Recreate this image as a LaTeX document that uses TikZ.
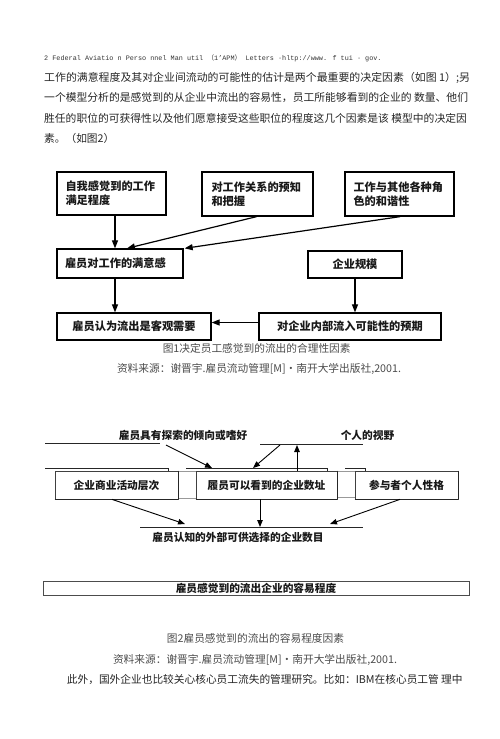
\documentclass[tikz,border=0pt]{standalone}
\usepackage{graphicx}
\usepackage{fontspec}
\setmainfont{Noto Sans CJK SC}
\newfontfamily\hdrfont{Liberation Mono}
\usetikzlibrary{arrows.meta}
\begin{document}
\begin{tikzpicture}[x=1pt,y=-1pt,
  boxa/.style={draw=black, line width=1.3pt, inner sep=0pt, text=black!90,
    font=\fontsize{11.2}{14.3}\selectfont\bfseries},
  boxb/.style={draw=black!75, line width=0.7pt, inner sep=0pt, fill=white, text=black!90,
    font=\fontsize{10.7}{12}\selectfont\bfseries},
  arra/.style={line width=1.2pt, -{Triangle[length=8pt,width=6pt]}},
  arrb/.style={line width=0.9pt, -{Triangle[length=7pt,width=5.5pt]}},
  body/.style={anchor=west, inner sep=0pt, text=black!85, font=\fontsize{10.7}{12}\selectfont},
  capt/.style={inner sep=0pt, text=black!70, font=\fontsize{10.7}{12}\selectfont},
  lbl/.style={inner sep=0pt, text=black!90, font=\fontsize{10.7}{12}\selectfont\bfseries},
  hline/.style={line width=1pt, draw=black!85},
  faint/.style={line width=0.5pt, draw=black!40}
]
\useasboundingbox[fill=white] (0,0) rectangle (500,739);

% header and body text
\node[anchor=west, inner sep=0pt, text=black!80, font=\fontsize{6.8}{8}\selectfont] (hdr) at (44,58)
  {\hdrfont 2 Federal Aviatio n Perso nnel Man util \rmfamily（\hdrfont 1’APM\rmfamily）\hdrfont{} Letters ·hltp://www. f tui · gov.};
\node[body] (p1) at (44,78) {\scalebox{1.019}[1]{工作的满意程度及其对企业间流动的可能性的估计是两个最重要的决定因素（如图 1）;另}};
\node[body] (p2) at (44,98) {\scalebox{1.01}[1]{一个模型分析的是感觉到的从企业中流出的容易性，员工所能够看到的企业的 数量、他们}};
\node[body] (p3) at (44,118) {\scalebox{1.007}[1]{胜任的职位的可获得性以及他们愿意接受这些职位的程度这几个因素是该 模型中的决定因}};
\node[body] (p4) at (44,138) {素。（如图2）};

% diagram 1
\node[boxa, minimum width=109pt, minimum height=43pt, text width=92pt, align=left] (A) at (111.5,193.5)
  {自我感觉到的工作\\满足程度};
\node[boxa, minimum width=111pt, minimum height=44pt, text width=92pt, align=left] (B) at (257.5,194)
  {对工作关系的预知\\和把握};
\node[boxa, minimum width=109pt, minimum height=44pt, text width=92pt, align=left] (C) at (399.5,194)
  {工作与其他各种角\\色的和谐性};
\node[boxa, minimum width=126pt, minimum height=29pt, text width=110pt, align=left] (D) at (120,263.5)
  {雇员对工作的满意感};
\node[boxa, minimum width=94pt, minimum height=27pt] (E) at (355,264.5) {企业规模};
\node[boxa, minimum width=154pt, minimum height=27pt] (F) at (134,326.5) {雇员认为流出是客观需要};
\node[boxa, minimum width=182pt, minimum height=27pt] (G) at (350,326.5) {对企业内部流入可能性的预期};

\draw[arra] ([xshift=3.5pt]A.south) -- ([xshift=3.5pt]A.south |- D.north);
\draw[arra] ([xshift=-1pt]B.south) -- ([xshift=7pt]D.north);
\draw[arra] ([xshift=0.5pt]C.south) -- ([xshift=1pt]D.north east);
\draw[arra] ([xshift=-5pt]D.south) -- ([xshift=-5pt]D.south |- F.north);
\draw[arra] (E.south) -- (E.south |- G.north);
\draw[arra] ([yshift=4pt]G.west) -- ([yshift=4pt]F.east);

\node[capt] (cap1) at (256.7,348) {图1决定员工感觉到的流出的合理性因素};
\node[capt] (src1) at (259,369) {资料来源：谢晋宇.雇员流动管理[M]·南开大学出版社,2001.};

% diagram 2
\node[lbl] (t1) at (183,435) {雇员具有探索的倾向或嗜好};
\coordinate (l1a) at (45,443);
\coordinate (l1b) at (160,443);
\draw[hline] (l1a) -- (l1b);
\node[lbl] (t2) at (367.5,435) {个人的视野};
\coordinate (l2a) at (260,444);
\coordinate (l2b) at (363,444);
\draw[hline] (l2a) -- (l2b);

% faint connectors between the boxes
\draw[faint] (178,471) -- (196,471);
\draw[faint] (178,498) -- (196,498);
\draw[faint] (337,471) -- (355,471);
\draw[faint] (337,497) -- (355,497);

\draw[line width=0.9pt, draw=black!85] (45,468) -- (168,468) -- (168,471);
\draw[line width=0.9pt, draw=black!85] (186,468) -- (327,468) -- (327,471);
\draw[line width=0.9pt, draw=black!85] (345,468) -- (365,468) -- (365,471);

\node[boxb, minimum width=123pt, minimum height=28pt] (b1) at (116.5,485) {企业商业活动层次};
\node[boxb, minimum width=141pt, minimum height=28pt] (b2) at (266.5,485) {履员可以看到的企业数址};
\node[boxb, minimum width=103pt, minimum height=28pt] (b3) at (406.5,485) {参与者个人性格};
\foreach \b in {b1,b2,b3} {
  \draw[line width=1.6pt, draw=black!85] (\b.south west) -- (\b.south east);
  \draw[line width=0.9pt, draw=black!85] (\b.north east) -- (\b.south east);
}

\coordinate (a1s) at (166,445);
\coordinate (a1e) at (212,468);
\draw[arrb] (a1s) -- (a1e);
\coordinate (a2s) at (280,445);
\coordinate (a2e) at (253,468);
\draw[arrb] (a2s) -- (a2e);
\draw[arrb] (b2.north -| 297,0) -- (297,445);

\coordinate (l3a) at (140,527);
\coordinate (l3b) at (363,527);
\draw[hline] (l3a) -- (l3b);
\node[lbl] (t3) at (238,537.5) {雇员认知的外部可供选择的企业数目};
\draw[arrb] ([xshift=-4.5pt]b1.south) -- (185,524);
\draw[arrb] ([xshift=-6.5pt]b2.south) -- ([xshift=-6.5pt]b2.south |- l3a);
\draw[arrb] ([xshift=-6.5pt]b3.south) -- (330,524);

\node[draw=black!70, line width=0.9pt, minimum width=426pt, minimum height=14pt, inner sep=0pt,
  text=black!90, font=\fontsize{10.7}{12}\selectfont\bfseries] (W) at (256,588) {雇员感觉到的流出企业的容易程度};

\node[capt] (cap2) at (255.5,638) {图2雇员感觉到的流出的容易程度因素};
\node[capt] (src2) at (255,660) {资料来源：谢晋宇.雇员流动管理[M]·南开大学出版社,2001.};
\node[body] (p5) at (66.7,680) {此外，国外企业也比较关心核心员工流失的管理研究。比如：IBM在核心员工管 理中};
\end{tikzpicture}
\end{document}
